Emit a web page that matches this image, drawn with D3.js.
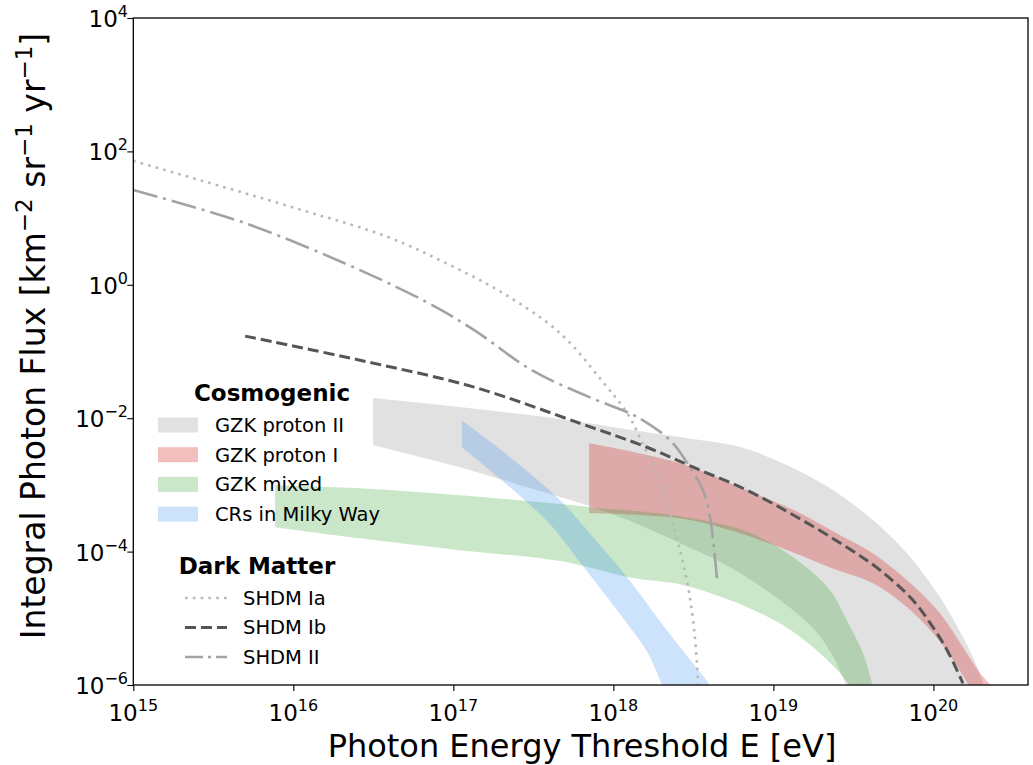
<!DOCTYPE html>
<html>
<head>
<meta charset="utf-8">
<script src="https://cdn.jsdelivr.net/npm/d3@7"></script>
<style>
  body { margin: 0; background: #fff; }
  text { font-family: "DejaVu Sans", sans-serif; fill: #000; }
</style>
</head>
<body>
<svg id="chart" width="1033" height="765"></svg>
<script>
// [energy eV, integral flux km^-2 sr^-1 yr^-1]
const protonIIUpper = [[3.15e16, 2.0e-2], [1.27e17, 1.41e-2], [4.65e17, 9.7e-3], [1.33e18, 6.6e-3],
  [3.48e18, 4.7e-3], [6.19e18, 3.7e-3], [1.10e19, 2.2e-3], [2.26e19, 8.9e-4], [4.20e19, 2.95e-4],
  [6.84e19, 9.4e-5], [1.10e20, 2.07e-5], [1.53e20, 5.2e-6], [1.82e20, 2.2e-6], [2.10e20, 9e-7]];
const protonIILower = [[3.15e16, 3.94e-3], [1.10e17, 1.84e-3], [2.89e17, 9.2e-4], [7.46e17, 4.62e-4],
  [1.33e18, 2.75e-4], [2.61e18, 1.33e-4], [5.36e18, 5.82e-5], [1.10e19, 1.86e-5], [1.82e19, 6.6e-6],
  [2.43e19, 2.34e-6], [2.88e19, 9.2e-7]];

const protonIUpper = [[7.05e17, 4.22e-3], [2.61e18, 2.11e-3], [6.85e18, 8.3e-4], [1.47e19, 3.76e-4],
  [2.61e19, 1.76e-4], [4.20e19, 9.4e-5], [6.84e19, 3.72e-5], [1.10e20, 1.19e-5], [1.53e20, 3.67e-6],
  [1.96e20, 1.5e-6], [2.36e20, 9.2e-7]];
const protonILower = [[7.05e17, 3.76e-4], [2.61e18, 3.16e-4], [5.36e18, 2.09e-4], [1.10e19, 1.16e-4],
  [2.26e19, 5.8e-5], [4.20e19, 3.35e-5], [6.84e19, 1.46e-5], [9.95e19, 5.96e-6], [1.33e20, 2.34e-6],
  [1.69e20, 9.2e-7]];

const mixedUpper = [[7.69e15, 9.9e-4], [2.61e16, 8.9e-4], [1.27e17, 6.8e-4], [7.46e17, 4.6e-4],
  [2.61e18, 3.4e-4], [6.85e18, 2.0e-4], [1.41e19, 7.4e-5], [2.26e19, 2.63e-5], [2.88e19, 9.3e-6],
  [3.63e19, 3.0e-6], [4.20e19, 9.2e-7]];
const mixedLower = [[7.69e15, 2.32e-4], [2.61e16, 1.58e-4], [1.10e17, 1.05e-4], [4.65e17, 7.2e-5],
  [1.27e18, 4.1e-5], [2.61e18, 3.24e-5], [5.36e18, 1.86e-5], [1.10e19, 8.4e-6], [1.77e19, 3.67e-6],
  [2.61e19, 1.5e-6], [3.05e19, 9.2e-7]];

const milkyWayUpper = [[1.13e17, 9.3e-3], [2.26e17, 2.6e-3], [4.65e17, 5.9e-4], [8.26e17, 1.24e-4],
  [1.22e18, 4.1e-5], [2.16e18, 6.6e-6], [3.15e18, 2.1e-6], [4.14e18, 9.2e-7]];
const milkyWayLower = [[1.13e17, 3.67e-3], [2.26e17, 9.2e-4], [4.02e17, 2.57e-4], [6.19e17, 6.9e-5],
  [1.15e18, 1.0e-5], [1.63e18, 3.1e-6], [2.04e18, 9.2e-7]];

const shdmIa = [[1.0e15, 72], [1.13e16, 13.2], [3.91e16, 5.19], [8.99e16, 2.11], [2.04e17, 0.75],
  [4.65e17, 0.188], [8.61e17, 3.47e-2], [1.22e18, 1.19e-2], [1.51e18, 4.37e-3], [1.96e18, 1.06e-3],
  [2.26e18, 3.76e-4], [2.61e18, 1.05e-4], [2.93e18, 2.92e-5], [3.15e18, 9.3e-6], [3.33e18, 2.1e-6],
  [3.38e18, 9.2e-7]];
const shdmIb = [[5.0e15, 0.17], [2.61e16, 7.4e-2], [1.35e17, 2.92e-2], [6.17e17, 8.4e-3],
  [1.62e18, 3.67e-3], [3.16e18, 1.84e-3], [6.85e18, 8.3e-4], [1.41e19, 3.27e-4], [2.88e19, 1.16e-4],
  [4.65e19, 5.25e-5], [7.46e19, 1.86e-5], [9.95e19, 7.3e-6], [1.22e20, 3.3e-6], [1.53e20, 1.06e-6]];
const shdmII = [[1.0e15, 26.3], [5.0e15, 8.4], [2.61e16, 1.66], [7.0e16, 0.53], [1.35e17, 0.209],
  [3.09e17, 5.25e-2], [7.08e17, 2.07e-2], [1.26e18, 1.19e-2], [1.53e18, 9.3e-3], [2.26e18, 4.68e-3],
  [3.01e18, 1.84e-3], [3.63e18, 8.3e-4], [3.98e18, 3.76e-4], [4.23e18, 1.24e-4], [4.47e18, 3.35e-5]];

const xMajor = [1e15, 1e16, 1e17, 1e18, 1e19, 1e20];
const xMajorExp = ['15', '16', '17', '18', '19', '20'];
const yMajor = [1e-6, 1e-4, 1e-2, 1e0, 1e2, 1e4];
const yMajorExp = ['\u22126', '\u22124', '\u22122', '0', '2', '4'];

const cosmoNames = ['GZK proton II', 'GZK proton I', 'GZK mixed', 'CRs in Milky Way'];
const dmNames = ['SHDM Ia', 'SHDM Ib', 'SHDM II'];

const L = 133.3, R = 1028, T = 18, B = 685;
const svg = d3.select('#chart');

const x = d3.scaleLog().domain([1e15, 3.9e20]).range([L, R]);
const y = d3.scaleLog().domain([1e-6, 1e4]).range([B, T]);

svg.append('defs').append('clipPath').attr('id', 'plotclip')
  .append('rect').attr('x', L).attr('y', T).attr('width', R - L).attr('height', B - T);

const plot = svg.append('g').attr('clip-path', 'url(#plotclip)');

const smooth = d3.line()
  .x(d => x(d[0])).y(d => y(d[1]))
  .curve(d3.curveCatmullRom.alpha(0.5));

function bandPath(upper, lower) {
  return smooth(upper) + 'L' + smooth(lower.slice().reverse()).slice(1) + 'Z';
}

// bands
const bands = [
  { up: protonIIUpper, lo: protonIILower, fill: '#9a9a9a', op: 0.3 },
  { up: protonIUpper, lo: protonILower, fill: '#d62728', op: 0.3 },
  { up: mixedUpper, lo: mixedLower, fill: '#2ca02c', op: 0.25 },
  { up: milkyWayUpper, lo: milkyWayLower, fill: '#4a9cf0', op: 0.28 }
];
plot.selectAll('path.band').data(bands).enter().append('path')
  .attr('class', 'band')
  .attr('d', d => bandPath(d.up, d.lo))
  .attr('fill', d => d.fill)
  .attr('fill-opacity', d => d.op);

// dark matter curves
const dmStyles = [
  { data: shdmIa, stroke: '#b8b8b8', width: 2.6, dash: '2.6,5.2' },
  { data: shdmIb, stroke: '#555555', width: 3, dash: '11,5' },
  { data: shdmII, stroke: '#a3a3a3', width: 2.6, dash: '25,6,3,6' }
];
plot.selectAll('path.dm').data(dmStyles).enter().append('path')
  .attr('class', 'dm')
  .attr('d', d => smooth(d.data))
  .attr('fill', 'none')
  .attr('stroke', d => d.stroke)
  .attr('stroke-width', d => d.width)
  .attr('stroke-dasharray', d => d.dash);

// axes
const xMinor = [];
for (let e = 15; e <= 20; e++) {
  for (let m = 2; m <= 9; m++) {
    const v = m * Math.pow(10, e);
    if (v < 3.9e20) xMinor.push(v);
  }
}

const gx = svg.append('g').attr('transform', `translate(0,${B})`);
gx.call(d3.axisBottom(x).tickValues(xMinor).tickSize(3.5).tickFormat(''));
gx.call(d3.axisBottom(x).tickValues(xMajor).tickSize(6).tickFormat(''));
gx.selectAll('.domain').remove();
gx.selectAll('line').attr('stroke', '#000').attr('stroke-width', 1.1);

const gy = svg.append('g').attr('transform', `translate(${L},0)`);
gy.call(d3.axisLeft(y).tickValues(yMajor).tickSize(6).tickFormat(''));
gy.selectAll('.domain').remove();
gy.selectAll('line').attr('stroke', '#000').attr('stroke-width', 1.1);

svg.append('rect').attr('x', L).attr('y', T).attr('width', R - L).attr('height', B - T)
  .attr('fill', 'none').attr('stroke', '#000').attr('stroke-width', 1.3);

// tick labels with superscripts
const xl = svg.append('g').selectAll('text').data(xMajor).enter().append('text')
  .attr('x', d => x(d)).attr('y', 721)
  .attr('text-anchor', 'middle')
  .style('font-size', '23px');
xl.append('tspan').text('10');
xl.append('tspan').attr('dy', -10).style('font-size', '16px').text((d, i) => xMajorExp[i]);

const yl = svg.append('g').selectAll('text').data(yMajor).enter().append('text')
  .attr('x', 128).attr('y', d => y(d) + 9)
  .attr('text-anchor', 'end')
  .style('font-size', '23px');
yl.append('tspan').text('10');
yl.append('tspan').attr('dy', -10).style('font-size', '16px').text((d, i) => yMajorExp[i]);

// axis titles
svg.append('text')
  .attr('x', 582).attr('y', 757)
  .attr('text-anchor', 'middle')
  .style('font-size', '32px')
  .text('Photon Energy Threshold E [eV]');

const ytitle = svg.append('text')
  .attr('transform', 'translate(45,336) rotate(-90)')
  .attr('text-anchor', 'middle')
  .style('font-size', '33px');
ytitle.append('tspan').text('Integral Photon Flux [km');
ytitle.append('tspan').attr('dy', -13).style('font-size', '23px').text('\u22122');
ytitle.append('tspan').attr('dy', 13).text(' sr');
ytitle.append('tspan').attr('dy', -13).style('font-size', '23px').text('\u22121');
ytitle.append('tspan').attr('dy', 13).text(' yr');
ytitle.append('tspan').attr('dy', -13).style('font-size', '23px').text('\u22121');
ytitle.append('tspan').attr('dy', 13).text(']');

// legend: cosmogenic
const leg = svg.append('g');
leg.append('text').attr('x', 272).attr('y', 401).attr('text-anchor', 'middle')
  .style('font-size', '23px').style('font-weight', 'bold').text('Cosmogenic');
const cosmoRows = leg.selectAll('g.cos').data(cosmoNames).enter().append('g')
  .attr('class', 'cos')
  .attr('transform', (d, i) => `translate(0,${425 + i * 29.7})`);
cosmoRows.append('rect').attr('x', 158).attr('y', -7.5).attr('width', 40).attr('height', 15)
  .attr('fill', (d, i) => bands[i].fill).attr('fill-opacity', (d, i) => bands[i].op);
cosmoRows.append('text').attr('x', 215).attr('dy', '0.35em')
  .style('font-size', '19.5px').text(d => d);

// legend: dark matter
leg.append('text').attr('x', 257).attr('y', 574).attr('text-anchor', 'middle')
  .style('font-size', '23px').style('font-weight', 'bold').text('Dark Matter');
const dmRows = leg.selectAll('g.dmr').data(dmNames).enter().append('g')
  .attr('class', 'dmr')
  .attr('transform', (d, i) => `translate(0,${598 + i * 29.5})`);
dmRows.append('line').attr('x1', 185).attr('x2', 227)
  .attr('stroke', (d, i) => dmStyles[i].stroke)
  .attr('stroke-width', (d, i) => dmStyles[i].width)
  .attr('stroke-dasharray', (d, i) => i === 2 ? '18,5,3,5' : dmStyles[i].dash);
dmRows.append('text').attr('x', 243).attr('dy', '0.35em')
  .style('font-size', '19.5px').text(d => d);
</script>
</body>
</html>
